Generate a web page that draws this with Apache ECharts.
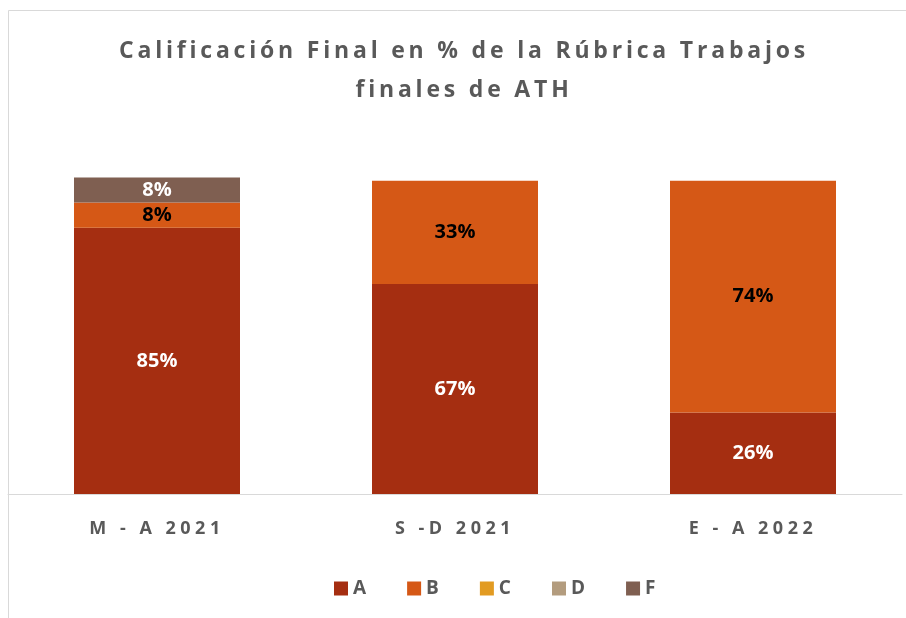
<!DOCTYPE html>
<html>
<head>
<meta charset="utf-8">
<script src="https://cdn.jsdelivr.net/npm/echarts@6/dist/echarts.min.js"></script>
<style>
html,body{margin:0;padding:0;background:#fff;}
#chart{width:906px;height:618px;}
</style>
</head>
<body>
<div id="chart"></div>
<script>
// Letter spacing support: a font family token "lsN" (not an installed font) sets ctx.letterSpacing to N/10 px
(function () {
  const proto = CanvasRenderingContext2D.prototype;
  const desc = Object.getOwnPropertyDescriptor(proto, 'font');
  if (!desc || !('letterSpacing' in proto)) return;
  Object.defineProperty(proto, 'font', {
    configurable: true,
    get: function () { return desc.get.call(this); },
    set: function (v) {
      desc.set.call(this, v);
      const m = /ls(\d+)/.exec(String(v));
      this.letterSpacing = m ? (parseInt(m[1], 10) / 10) + 'px' : '0px';
    }
  });
})();

const categories = ['M - A 2021', 'S -D 2021', 'E - A 2022'];
const seriesNames = ['A', 'B', 'C', 'D', 'F'];
const valuesA = [85, 67, 26];
const valuesB = [8, 33, 74];
const valuesC = [null, null, null];
const valuesD = [null, null, null];
const valuesF = [8, null, null];
const titleText = 'Calificación Final en % de la Rúbrica Trabajos\nfinales de ATH';

const colors = ['#A52E11', '#D55816', '#E29B22', '#B39C7E', '#7F5F51'];
const labelColors = ['#ffffff', '#000000', '#ffffff', '#ffffff', '#ffffff'];
const allValues = [valuesA, valuesB, valuesC, valuesD, valuesF];
const FONT = '"Open Sans", "Liberation Sans", sans-serif';

const chart = echarts.init(document.getElementById('chart'), null, {renderer: 'canvas'});
chart.setOption({
  animation: false,
  backgroundColor: '#ffffff',
  color: colors,
  title: {
    text: titleText,
    left: 459,
    textAlign: 'center',
    top: 27,
    textStyle: {
      fontFamily: 'ls38, ' + FONT,
      fontSize: 23,
      fontWeight: 'bold',
      color: '#595959',
      lineHeight: 39
    }
  },
  graphic: [{
    type: 'rect',
    silent: true,
    shape: {x: 8.5, y: 10.5, width: 1000, height: 1000},
    style: {fill: 'none', stroke: '#d9d9d9', lineWidth: 1}
  }],
  legend: {
    data: seriesNames,
    bottom: 15,
    left: 329,
    itemWidth: 14,
    itemHeight: 14,
    itemGap: 41,
    icon: 'rect',
    textStyle: {fontFamily: FONT, fontSize: 19, fontWeight: 'bold', color: '#595959'}
  },
  grid: {left: 8, right: 4, top: 118, bottom: 124, containLabel: false},
  xAxis: {
    type: 'category',
    data: categories,
    axisLine: {lineStyle: {color: '#d9d9d9', width: 1}},
    axisTick: {show: false},
    axisLabel: {
      margin: 24,
      fontFamily: 'ls45, ' + FONT,
      fontSize: 18,
      fontWeight: 'bold',
      color: '#595959'
    }
  },
  yAxis: {
    type: 'value',
    min: 0,
    max: 120,
    show: false,
    splitLine: {show: false}
  },
  series: seriesNames.map((name, i) => ({
    name: name,
    type: 'bar',
    stack: 'total',
    barWidth: 166,
    data: allValues[i],
    label: {
      show: true,
      position: 'inside',
      formatter: p => (p.value == null ? '' : p.value + '%'),
      fontFamily: FONT,
      fontSize: 20,
      fontWeight: 'bold',
      color: labelColors[i]
    }
  }))
});
</script>
</body>
</html>
